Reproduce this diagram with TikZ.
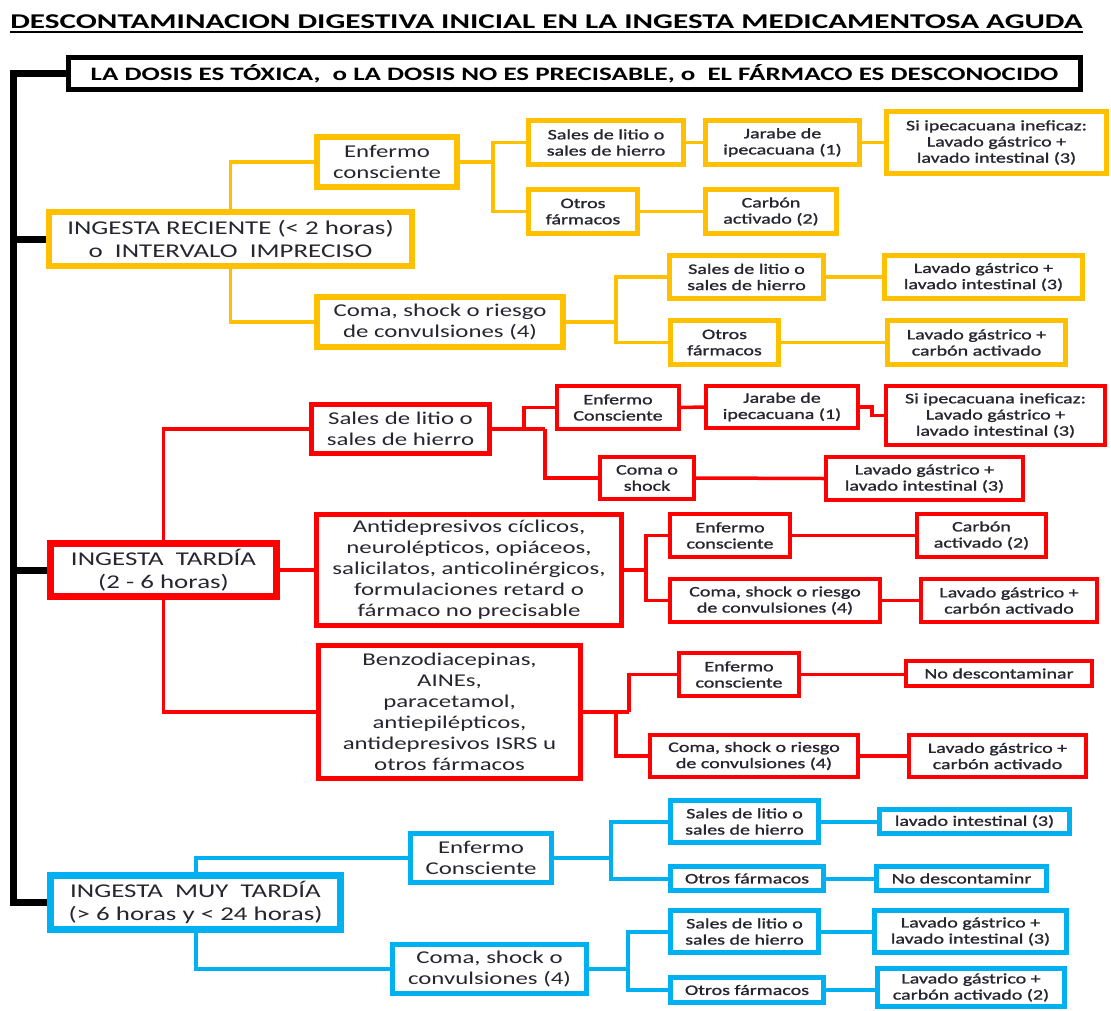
\documentclass[tikz,border=0pt]{standalone}
\usepackage{graphicx}
\usepackage{fontspec}
\setmainfont{Carlito}[FakeStretch=1.38]
\newfontfamily\smallf{Carlito}[FakeStretch=1.38, FakeBold=1.2]
\definecolor{cy}{RGB}{255,192,0}
\definecolor{cr}{RGB}{255,0,0}
\definecolor{cb}{RGB}{0,176,240}
\definecolor{txt}{RGB}{38,38,48}
\newcommand\mybox[8]{\node[#1, line width=#7pt, minimum width={(#5-#3-#7)*1pt}, minimum height={(#6-#4-#7)*1pt}] (#2) at ({(#3+#5)/2},{(#4+#6)/2}) {#8};}
\tikzset{
  box/.style={draw, fill=white, align=center, inner sep=0pt, text=txt},
  big/.style={font=\fontsize{19.5}{23}\selectfont},
  med/.style={font=\fontsize{18}{21}\selectfont},
  sml/.style={font=\smallf\fontsize{14.5}{16.2}\selectfont},
  Y/.style={box, draw=cy},
  R/.style={box, draw=cr},
  B/.style={box, draw=cb},
  K/.style={box, draw=black, text=black},
  yl/.style={draw=cy, line width=3.5pt},
  rl/.style={draw=cr, line width=3.5pt},
  bl/.style={draw=cb, line width=4pt},
  trunk/.style={draw=black, line width=7pt}
}
\begin{document}
\begin{tikzpicture}[x=1pt,y=-1pt]
\fill[white] (0,0) rectangle (1111,1010);
\useasboundingbox (0,0) rectangle (1111,1010);
% title
\node[anchor=base, inner sep=0pt, font=\bfseries\fontsize{21}{24}\selectfont] (title) at (546.5,28) {\scalebox{1.076}[1]{DESCONTAMINACION DIGESTIVA INICIAL EN LA INGESTA MEDICAMENTOSA AGUDA}};
\draw[line width=2pt] ([yshift=-4pt]title.base west) -- ([yshift=-4pt]title.base east);
% dose box
\mybox{K,font=\bfseries\fontsize{19}{22}\selectfont}{dose}{66}{55}{1083}{92}{5}{\scalebox{1.03}[1]{LA DOSIS ES TÓXICA,\ \ o LA DOSIS NO ES PRECISABLE, o\ \ EL FÁRMACO ES DESCONOCIDO}}
% yellow
\mybox{Y,big}{yR}{46}{209}{415}{269}{6}{INGESTA RECIENTE (< 2 horas)\\o\ \ INTERVALO\ \ IMPRECISO}
\mybox{Y,med}{yE}{314}{134}{460}{190}{6}{Enfermo\\consciente}
\mybox{Y,med}{yC}{314}{294}{566}{350}{6}{Coma, shock o riesgo\\de convulsiones (4)}
\mybox{Y,sml}{yS1}{526}{118}{686}{167}{5}{Sales de litio o\\sales de hierro}
\mybox{Y,sml}{yJ}{703}{118}{862}{167}{5}{Jarabe de\\ipecacuana (1)}
\mybox{Y,sml}{ySi}{884}{109}{1109}{176}{5}{Si ipecacuana ineficaz:\\Lavado gástrico +\\lavado intestinal (3)}
\mybox{Y,sml}{yO1}{526}{187}{640}{236}{5}{Otros\\fármacos}
\mybox{Y,sml}{yCa}{703}{187}{839}{236}{5}{Carbón\\activado (2)}
\mybox{Y,sml}{yS2}{667}{253}{826}{301}{5}{Sales de litio o\\sales de hierro}
\mybox{Y,sml}{yL2}{882}{253}{1085}{301}{5}{Lavado gástrico +\\lavado intestinal (3)}
\mybox{Y,sml}{yO2}{668}{318}{781}{367}{5}{Otros\\fármacos}
\mybox{Y,sml}{yLC}{885}{318}{1068}{367}{5}{Lavado gástrico +\\carbón activado}
% red
\mybox{R,big}{rT}{47}{540}{280}{600}{7}{INGESTA\ \ TARDÍA\\(2 - 6 horas)}
\mybox{R,med}{rS}{309}{402}{492}{456}{5}{Sales de litio o\\sales de hierro}
\mybox{R,med}{rA}{314}{512}{624}{628}{5}{Antidepresivos cíclicos,\\neurolépticos, opiáceos,\\salicilatos, anticolinérgicos,\\formulaciones retard o\\fármaco no precisable}
\mybox{R,med}{rB}{316}{643}{583}{781}{5}{Benzodiacepinas,\\AINEs,\\paracetamol,\\antiepilépticos,\\antidepresivos ISRS u\\otros fármacos}
\mybox{R,sml}{rE1}{555}{384}{681}{431}{4}{Enfermo\\Consciente}
\mybox{R,sml}{rJ}{704}{384}{860}{430}{4}{Jarabe de\\ipecacuana (1)}
\mybox{R,sml}{rSi}{884}{384}{1107}{447}{4}{Si ipecacuana ineficaz:\\Lavado gástrico +\\lavado intestinal (3)}
\mybox{R,sml}{rCo}{598}{455}{696}{501}{4}{Coma o\\shock}
\mybox{R,sml}{rL1}{824}{455}{1025}{502}{4}{Lavado gástrico +\\lavado intestinal (3)}
\mybox{R,sml}{rE2}{668}{512}{792}{559}{4}{Enfermo\\consciente}
\mybox{R,sml}{rCa}{915}{512}{1048}{559}{4}{Carbón\\activado (2)}
\mybox{R,sml}{rC2}{668}{577}{882}{624}{4}{Coma, shock o riesgo\\de convulsiones (4)}
\mybox{R,sml}{rLC2}{919}{577}{1099}{624}{4}{Lavado gástrico +\\carbón activado}
\mybox{R,sml}{rE3}{677}{651}{801}{698}{4}{Enfermo\\consciente}
\mybox{R,sml}{rN}{904}{659}{1094}{688}{4}{No descontaminar}
\mybox{R,sml}{rC3}{648}{733}{860}{779}{4}{Coma, shock o riesgo\\de convulsiones (4)}
\mybox{R,sml}{rLC3}{907}{733}{1088}{779}{4}{Lavado gástrico +\\carbón activado}
% blue
\mybox{B,big}{bT}{47}{872}{344}{933}{7}{INGESTA\ \ MUY\ \ TARDÍA\\(> 6 horas y < 24 horas)}
\mybox{B,med}{bE}{408}{831}{554}{885}{5}{Enfermo\\Consciente}
\mybox{B,med}{bC}{390}{942}{589}{996}{5}{Coma, shock o\\convulsiones (4)}
\mybox{B,sml}{bS1}{668}{798}{821}{845}{5}{Sales de litio o\\sales de hierro}
\mybox{B,sml}{bL1}{877}{807}{1072}{836}{5}{lavado intestinal (3)}
\mybox{B,sml}{bO1}{668}{864}{826}{893}{5}{Otros fármacos}
\mybox{B,sml}{bN}{874}{864}{1049}{893}{5}{No descontaminr}
\mybox{B,sml}{bS2}{668}{908}{821}{955}{5}{Sales de litio o\\sales de hierro}
\mybox{B,sml}{bL2}{872}{908}{1069}{955}{5}{Lavado gástrico +\\lavado intestinal (3)}
\mybox{B,sml}{bO2}{668}{975}{826}{1005}{5}{Otros fármacos}
\mybox{B,sml}{bLC}{875}{966}{1067}{1009}{5}{Lavado gástrico +\\carbón activado (2)}
% trunk
\coordinate (tt) at (13,73.5);
\coordinate (tb) at (13,902.5);
\draw[trunk] (dose.west) -- (tt) -- (tb) -- (bT.west);
\draw[trunk] (tt |- yR.west) -- (yR.west);
\draw[trunk] (tt |- rT.west) -- (rT.west);
% yellow connectors
\draw[yl] (yR.north) |- (yE.west);
\draw[yl] (yR.south) |- (yC.west);
\coordinate (yj1) at (493,162);
\draw[yl] (yE.east) -- (yj1);
\draw[yl] (yS1.west) -| (yj1) |- (yO1.west);
\draw[yl] (yS1.east) -- (yJ.west);
\draw[yl] (yJ.east) -- (ySi.west);
\draw[yl] (yO1.east) -- (yCa.west);
\coordinate (yj2) at (616,322);
\draw[yl] (yC.east) -- (yj2);
\draw[yl] (yS2.west) -| (yj2) |- (yO2.west);
\draw[yl] (yS2.east) -- (yL2.west);
\draw[yl] (yO2.east) -- (yLC.west);
% red connectors
\draw[rl] (rT.north) |- (rS.west);
\draw[rl] (rT.east) -- (rA.west);
\draw[rl] (rT.south) |- (rB.west);
\coordinate (rj1) at (524,429);
\coordinate (rj2) at (545,429);
\draw[rl] (rS.east) -- (rj2);
\draw[rl] (rj1) |- (rE1.west);
\draw[rl] (rj2) |- (rCo.west);
\draw[rl] (rE1.east) -- (rJ.west);
\coordinate (rj3) at (872,407);
\draw[rl] (rJ.east) -- (rj3) |- (rSi.west);
\draw[rl] (rCo.east) -- (rL1.west);
\coordinate (rj4) at (646,570);
\draw[rl] (rA.east) -- (rj4);
\draw[rl] (rE2.west) -| (rj4) |- (rC2.west);
\draw[rl] (rE2.east) -- (rCa.west);
\draw[rl] (rC2.east) -- (rLC2.west);
\coordinate (rj5) at (629,712);
\coordinate (rj6) at (616,712);
\draw[rl] (rB.east) -- (rj5);
\draw[rl] (rj5) |- (rE3.west);
\draw[rl] (rj6) |- (rC3.west);
\draw[rl] (rE3.east) -- (rE3.east -| rN.west);
\draw[rl] (rC3.east) -- (rLC3.west);
% blue connectors
\draw[bl] (bT.north) |- (bE.west);
\draw[bl] (bT.south) |- (bC.west);
\coordinate (bj1) at (611,858);
\draw[bl] (bE.east) -- (bj1);
\draw[bl] (bS1.west) -| (bj1) |- (bO1.west);
\coordinate (bj2) at (628,969);
\draw[bl] (bC.east) -- (bj2);
\draw[bl] (bS2.west) -| (bj2) |- (bO2.west);
\draw[bl] (bS1.east) -- (bS1.east -| bL1.west);
\draw[bl] (bO1.east) -- (bN.west);
\draw[bl] (bS2.east) -- (bL2.west);
\draw[bl] (bO2.east) -- (bO2.east -| bLC.west);
\end{tikzpicture}
\end{document}
